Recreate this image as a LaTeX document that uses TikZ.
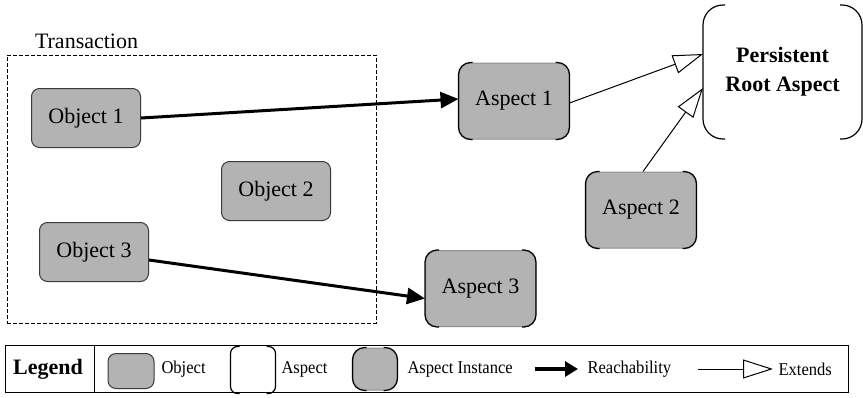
\documentclass[tikz,border=0pt]{standalone}
\usepackage{fontspec}
\setmainfont{Liberation Serif}
\newfontfamily\legendfont[FakeStretch=0.92]{Liberation Serif}
\usetikzlibrary{arrows.meta}
\definecolor{cfill}{HTML}{B3B3B3}
\definecolor{cedge}{HTML}{3A3A3A}
\tikzset{
  every picture/.style={x=0.5pt, y=-0.5pt, line width=0.5pt, font=\fontsize{11}{14}\selectfont},
  object/.style={draw=cedge, fill=cfill, rounded corners=4pt, inner sep=0pt, minimum width=54.5pt, minimum height=29.5pt},
  instance/.style={draw=cfill!80!black, fill=cfill, rounded corners=6pt, inner sep=0pt, minimum width=55pt, minimum height=38pt},
  aspectbox/.style={inner sep=0pt, align=center},
  bracket/.style={draw=black, line width=0.6pt},
  reach/.style={-{Triangle[length=9pt, width=8pt]}, line width=1.5pt},
  extends/.style={-{Triangle[open, length=15pt, width=9.5pt]}, line width=0.5pt},
  txbox/.style={draw, dashed, dash pattern=on 2pt off 1pt, inner sep=0pt},
  legendtext/.style={font=\legendfont\fontsize{9}{11}\selectfont, anchor=west, inner sep=0pt},
}
% left and right sides of an aspect: #1 node, #2 corner radius
\newcommand{\bracketpair}[2]{%
  \draw[bracket, rounded corners=#2] ([xshift=#2+1pt]#1.north west) -- (#1.north west) -- (#1.south west) -- ([xshift=#2+1pt]#1.south west);
  \draw[bracket, rounded corners=#2] ([xshift=-#2-1pt]#1.north east) -- (#1.north east) -- (#1.south east) -- ([xshift=-#2-1pt]#1.south east);
}

\begin{document}
\begin{tikzpicture}
  \useasboundingbox (0,0) rectangle (863,397);

  % transaction
  \node[txbox, minimum width=184.5pt, minimum height=134pt] (tx) at (191.5,189) {};
  \node[anchor=base west, inner sep=0pt] (txlabel) at ([xshift=14pt, yshift=3pt]tx.north west) {Transaction};
  \foreach \n/\x/\y/\t in {o1/86/118/Object 1, o2/276/191/Object 2, o3/94/252/Object 3}
    \node[object] (\n) at (\x,\y) {\t};

  % aspects
  \foreach \n/\x/\y/\t in {a1/514/101/Aspect 1, a2/641/210/Aspect 2, a3/480.5/288.5/Aspect 3} {
    \node[instance] (\n) at (\x,\y) {\t};
    \bracketpair{\n}{6pt}
  }
  \node[aspectbox, minimum width=79pt, minimum height=66.5pt, font=\fontsize{11}{14.5}\selectfont\bfseries] (root) at (782.5,72) {Persistent\\Root Aspect};
  \bracketpair{root}{10pt}

  \draw[reach] (o1.east) -- ([yshift=1pt]a1.west);
  \draw[reach] ([yshift=-4pt]o3.east) -- ([yshift=-5pt]a3.west);
  \draw[extends] ([yshift=-1pt]a1.east) -- ([yshift=9pt]root.west);
  \draw[extends] ([xshift=1pt]a2.north) -- ([yshift=-8pt]root.west);

  % legend
  \node[draw, inner sep=0pt, minimum width=421.5pt, minimum height=23.5pt] (lg) at (426.5,368.5) {};
  \draw ([xshift=45pt]lg.north west) -- ([xshift=45pt]lg.south west);
  \node[font=\fontsize{11}{13}\selectfont\bfseries, inner sep=0pt] (lgtitle) at (48,369) {Legend};
  \node[object, minimum width=23pt, minimum height=17.5pt] (lgobj) at (131,371) {};
  \node[legendtext] (lgobjtext) at (161,369) {Object};
  \node[aspectbox, minimum width=22pt, minimum height=23pt] (lgasp) at (253,370) {};
  \bracketpair{lgasp}{3.5pt}
  \node[legendtext] (lgasptext) at (281,369) {Aspect};
  \node[instance, minimum width=22pt, minimum height=21pt] (lginst) at (375,369) {};
  \bracketpair{lginst}{6pt}
  \node[legendtext] (lginsttext) at (407,369) {Aspect Instance};
  \coordinate (ra) at (535,369);
  \coordinate (rb) at (578,369);
  \draw[reach, -{Triangle[length=6.5pt, width=7.5pt]}, line width=2pt] (ra) -- (rb);
  \node[legendtext] (lgreach) at (587,369) {Reachability};
  \coordinate (ea) at (698,369);
  \coordinate (eb) at (773,369);
  \draw[extends] (ea) -- (eb);
  \node[legendtext] (lgext) at (778,369) {Extends};
\end{tikzpicture}
\end{document}
